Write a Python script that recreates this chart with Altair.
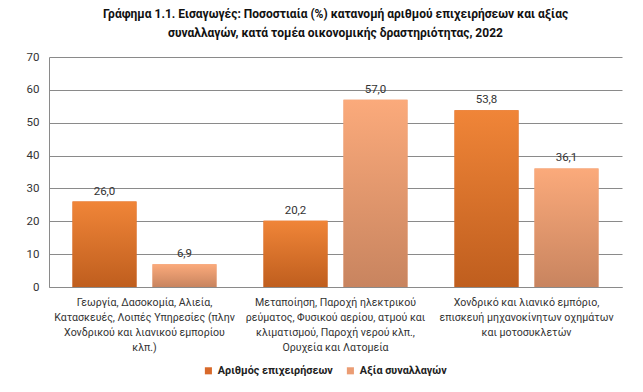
import altair as alt
import pandas as pd

categories = [
    "Γεωργία, Δασοκομία, Αλιεία,|Κατασκευές, Λοιπές Υπηρεσίες (πλην|Χονδρικού και λιανικού εμπορίου|κλπ.)",
    "Μεταποίηση, Παροχή ηλεκτρικού|ρεύματος, Φυσικού αερίου, ατμού και|κλιματισμού, Παροχή νερού κλπ.,|Ορυχεία και Λατομεία",
    "Χονδρικό και λιανικό εμπόριο,|επισκευή μηχανοκίνητων οχημάτων|και μοτοσυκλετών",
]
series = ["Αριθμός επιχειρήσεων", "Αξία συναλλαγών"]
businesses = [26.0, 20.2, 53.8]
transactions = [6.9, 57.0, 36.1]

rows = []
for c, a, b in zip(categories, businesses, transactions):
    rows.append({"cat": c, "series": series[0], "value": a})
    rows.append({"cat": c, "series": series[1], "value": b})
df = pd.DataFrame(rows)

FONT = "Roboto"

base = alt.Chart(df).encode(
    x=alt.X(
        "cat:N",
        sort=categories,
        scale=alt.Scale(paddingInner=0, paddingOuter=0),
        axis=alt.Axis(
            title=None,
            labelAngle=0,
            labelExpr="split(datum.label, '|')",
            labelFont=FONT,
            labelFontSize=10.6,
            labelColor="#333333",
            labelLineHeight=15,
            labelPadding=10,
            labelLimit=300,
            ticks=False,
            domainColor="#8a8a8a",
            grid=False,
        ),
    ),
    xOffset=alt.XOffset(
        "series:N", sort=series, scale=alt.Scale(paddingInner=0.2, paddingOuter=0.294)
    ),
    y=alt.Y(
        "value:Q",
        scale=alt.Scale(domain=[0, 70]),
        axis=alt.Axis(
            title=None,
            values=[0, 10, 20, 30, 40, 50, 60, 70],
            labelFont=FONT,
            labelFontSize=11.5,
            labelColor="#333333",
            labelPadding=10,
            ticks=False,
            domainColor="#8a8a8a",
            gridColor="#8a8a8a",
            grid=True,
        ),
    ),
)

legend_bars = base.mark_bar().encode(
    color=alt.Color(
        "series:N",
        sort=series,
        scale=alt.Scale(domain=series, range=["#D8692A", "#EB9D74"]),
        legend=alt.Legend(
            title=None,
            orient="none",
            legendX=154,
            legendY=308,
            direction="horizontal",
            symbolType="square",
            symbolSize=50,
            symbolStrokeWidth=0,
            labelFont=FONT,
            labelFontSize=10.8,
            labelFontWeight="bold",
            labelColor="#222222",
            columnPadding=12,
            labelLimit=300,
        ),
    )
)

grad_dark = alt.Gradient(
    gradient="linear", x1=0, x2=0, y1=0, y2=1,
    stops=[alt.GradientStop(offset=0, color="#F08538"),
           alt.GradientStop(offset=1, color="#BF5E1E")],
)
grad_light = alt.Gradient(
    gradient="linear", x1=0, x2=0, y1=0, y2=1,
    stops=[alt.GradientStop(offset=0, color="#FBAA7B"),
           alt.GradientStop(offset=1, color="#C8845F")],
)

dark_bars = base.mark_bar(fill=grad_dark).transform_filter(
    alt.datum.series == series[0]
)
light_bars = base.mark_bar(fill=grad_light).transform_filter(
    alt.datum.series == series[1]
)

labels = base.mark_text(
    baseline="bottom", dy=-5, font=FONT, fontSize=11.5, color="#333333"
).transform_calculate(
    label="replace(format(datum.value, '.1f'), '.', ',')"
).encode(text="label:N")

chart = (
    alt.layer(legend_bars, dark_bars, light_bars, labels)
    .properties(
        width=573,
        height=230,
        autosize=alt.AutoSizeParams(type="none"),
        padding={"left": 41, "top": 49, "right": 13, "bottom": 90},
        title=alt.TitleParams(
            text=[
                "Γράφημα 1.1. Εισαγωγές: Ποσοστιαία (%) κατανομή αριθμού επιχειρήσεων και αξίας",
                "συναλλαγών, κατά  τομέα οικονομικής δραστηριότητας, 2022",
            ],
            font=FONT,
            fontSize=12,
            fontWeight="bold",
            color="#111111",
            lineHeight=19,
            anchor="middle",
            offset=11,
        ),
    )
    .configure_view(stroke=None)
)

chart.save("out.html", embed_options={"renderer": "svg", "actions": False})
